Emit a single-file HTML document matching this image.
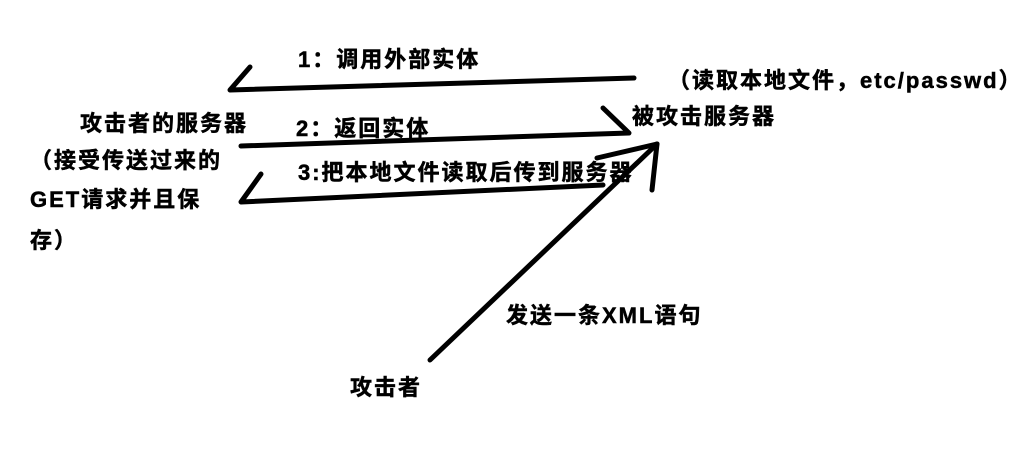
<!DOCTYPE html>
<html><head><meta charset="utf-8"><style>
html,body{margin:0;padding:0;background:#fff;}
#c{position:relative;width:1034px;height:469px;overflow:hidden;background:#fff;}
.t{position:absolute;white-space:nowrap;font-family:"Liberation Sans","Noto Sans CJK SC",sans-serif;font-weight:bold;font-size:22px;line-height:26px;letter-spacing:2px;color:#000;-webkit-text-stroke:0.5px #000;}
svg{position:absolute;left:0;top:0;}
</style></head><body><div id="c">
<svg width="1034" height="469" viewBox="0 0 1034 469">
<g fill="none" stroke="#000" stroke-width="5" stroke-linecap="round" stroke-linejoin="round">
<polyline points="250,67 230,90 634,78"/>
<polyline points="241,146 629,133 603,108"/>
<polyline points="261,174 241,202 603,185"/>
<line x1="430" y1="360" x2="657" y2="144"/>
<line x1="657" y1="144" x2="597" y2="158"/>
<line x1="657" y1="144" x2="652" y2="190"/>
</g>
</svg>
<div class="t" style="left:298px;top:47px;">1：调用外部实体</div>
<div class="t" style="left:668px;top:68px;">（读取本地文件，etc/passwd）</div>
<div class="t" style="left:632px;top:104px;">被攻击服务器</div>
<div class="t" style="left:80px;top:111px;">攻击者的服务器</div>
<div class="t" style="left:296px;top:116px;">2：返回实体</div>
<div class="t" style="left:30px;top:148px;">（接受传送过来的</div>
<div class="t" style="left:298px;top:160px;">3:把本地文件读取后传到服务器</div>
<div class="t" style="left:30px;top:187px;">GET请求并且保</div>
<div class="t" style="left:30px;top:228px;">存）</div>
<div class="t" style="left:506px;top:303px;">发送一条XML语句</div>
<div class="t" style="left:350px;top:375px;">攻击者</div>
</div></body></html>
